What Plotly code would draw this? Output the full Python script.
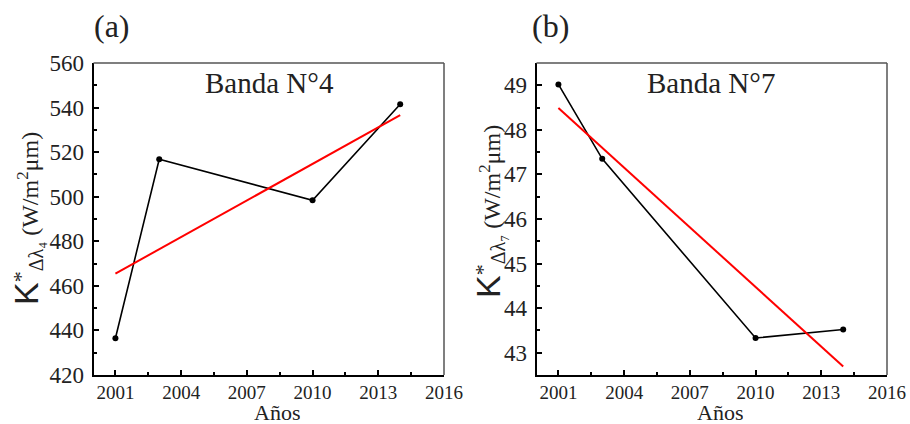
import plotly.graph_objects as go

years = [2001, 2003, 2010, 2014]
band4 = [436.5, 516.8, 498.4, 541.5]
band7 = [49.02, 47.35, 43.33, 43.52]
fit_years = [2001, 2014]
fit4 = [465.5, 536.6]
fit7 = [48.49, 42.69]

x_ticks = [2001, 2004, 2007, 2010, 2013, 2016]
x_minor = [2002.5, 2005.5, 2008.5, 2011.5, 2014.5]
y4_ticks = [420, 440, 460, 480, 500, 520, 540, 560]
y4_minor = [430, 450, 470, 490, 510, 530, 550]
y7_ticks = [43, 44, 45, 46, 47, 48, 49]
y7_minor = [43.5, 44.5, 45.5, 46.5, 47.5, 48.5]

W, H = 910, 424
serif = "Liberation Serif"

fig = go.Figure()
fig.add_trace(go.Scatter(x=years, y=band4, mode="lines+markers", xaxis="x", yaxis="y",
                         line=dict(color="black", width=1.6), marker=dict(color="black", size=6)))
fig.add_trace(go.Scatter(x=fit_years, y=fit4, mode="lines", xaxis="x", yaxis="y",
                         line=dict(color="#ff0000", width=2)))
fig.add_trace(go.Scatter(x=years, y=band7, mode="lines+markers", xaxis="x2", yaxis="y2",
                         line=dict(color="black", width=1.6), marker=dict(color="black", size=6)))
fig.add_trace(go.Scatter(x=fit_years, y=fit7, mode="lines", xaxis="x2", yaxis="y2",
                         line=dict(color="#ff0000", width=2)))

def xa(domain, anchor):
    return dict(domain=domain, anchor=anchor, range=[2000, 2016], tickvals=x_ticks,
                ticks="inside", ticklen=5, tickwidth=1.5, tickcolor="black",
                showline=True, linecolor="black", linewidth=2, mirror=False,
                showgrid=False, zeroline=False, automargin=False,
                ticklabelstandoff=-1,
                tickfont=dict(family=serif, size=19, color="#222"),
                minor=dict(tickvals=x_minor, ticks="inside", ticklen=3,
                           tickwidth=1.5, tickcolor="black"))

def ya(domain, anchor, rng, tickvals, minor_vals):
    return dict(domain=domain, anchor=anchor, range=rng, tickvals=tickvals,
                ticks="inside", ticklen=5, tickwidth=1.5, tickcolor="black",
                showline=True, linecolor="black", linewidth=2, mirror=False,
                showgrid=False, zeroline=False, automargin=False,
                ticklabelstandoff=3,
                tickfont=dict(family=serif, size=23, color="#222"),
                minor=dict(tickvals=minor_vals, ticks="inside", ticklen=3,
                           tickwidth=1.5, tickcolor="black"))

ydom = [1 - 375 / H, 1 - 63 / H]
xdom_a = [93.5 / W, 444 / W]
xdom_b = [536.5 / W, 887 / W]

fig.update_layout(
    width=W, height=H, margin=dict(l=0, r=0, t=0, b=0),
    paper_bgcolor="white", plot_bgcolor="white", showlegend=False,
    xaxis=xa(xdom_a, "y"),
    yaxis=ya(ydom, "x", [420, 560], y4_ticks, y4_minor),
    xaxis2=xa(xdom_b, "y2"),
    yaxis2=ya(ydom, "x2", [42.5, 49.5], y7_ticks, y7_minor),
)

for x0, x1 in [(xdom_a[0], xdom_a[1]), (xdom_b[0], xdom_b[1])]:
    fig.add_shape(type="line", xref="paper", yref="paper", x0=x0, x1=x1, y0=ydom[1], y1=ydom[1],
                  line=dict(color="#555", width=1.5))
    fig.add_shape(type="line", xref="paper", yref="paper", x0=x1, x1=x1, y0=ydom[0], y1=ydom[1],
                  line=dict(color="#555", width=1.5))

def ytitle(sub):
    return ("<span style='font-family:Liberation Sans;font-size:34px'>K</span>"
            "<sup><span style='font-size:22px'>*</span></sup>"
            "<sub><span style='font-size:20px'>Δλ" + sub + "</span></sub>"
            " (W/m<sup>2</sup>μm)")

ann = [
    dict(text="(a)", x=112 / W, y=1 - 26 / H, font=dict(size=32)),
    dict(text="(b)", x=550 / W, y=1 - 26 / H, font=dict(size=32)),
    dict(text="Banda N°4", x=269 / W, y=1 - 83 / H, font=dict(size=29)),
    dict(text="Banda N°7", x=711 / W, y=1 - 83 / H, font=dict(size=29)),
    dict(text="Años", x=277 / W, y=0, yanchor="bottom", height=20, font=dict(size=22)),
    dict(text="Años", x=720 / W, y=0, yanchor="bottom", height=20, font=dict(size=22)),
    dict(text=ytitle("₄"), x=27 / W, y=1 - 219 / H, textangle=-90, font=dict(size=24)),
    dict(text=ytitle("₇"), x=489 / W, y=1 - 212 / H, textangle=-90, font=dict(size=24)),
]
for a in ann:
    f = dict(family=serif, color="#222")
    f.update(a.pop("font"))
    a.setdefault("yanchor", "middle")
    fig.add_annotation(xref="paper", yref="paper", showarrow=False,
                       xanchor="center", font=f, **a)

fig.write_html("out.html", config={"displayModeBar": False},
               post_script="document.body.style.margin='0';document.body.style.padding='0';")
